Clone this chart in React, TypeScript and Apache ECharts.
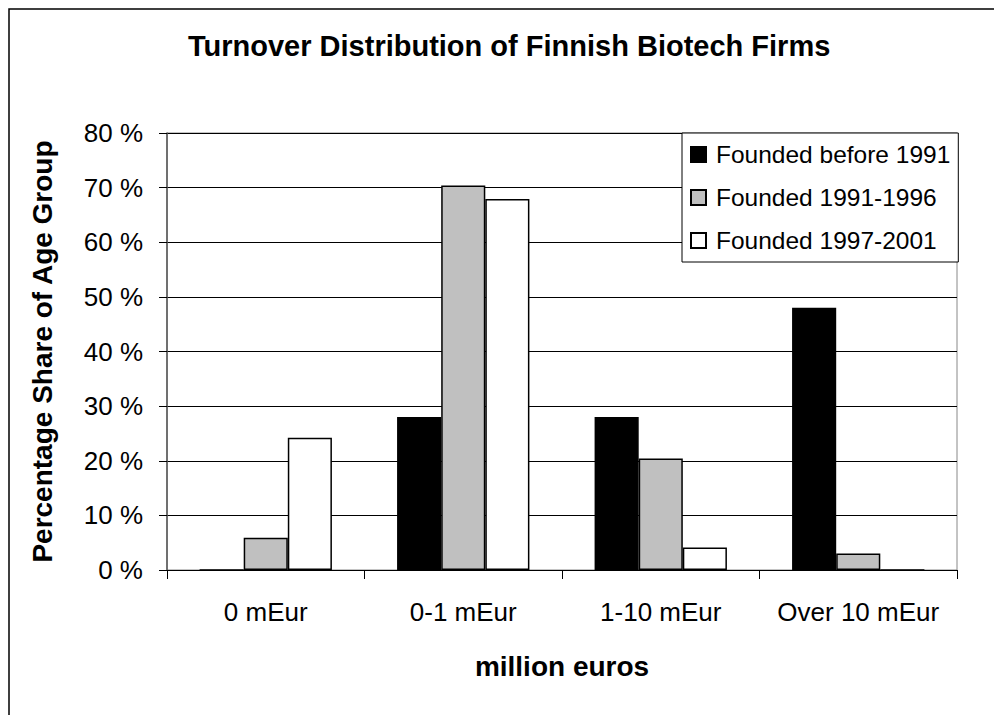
import React, { useEffect, useRef } from "react";
import * as echarts from "echarts";

const categories = ["0 mEur", "0-1 mEur", "1-10 mEur", "Over 10 mEur"];
const seriesNames = ["Founded before 1991", "Founded 1991-1996", "Founded 1997-2001"];
const before1991 = [0, 28.0, 28.0, 48.0];
const from1991to1996 = [5.9, 70.4, 20.4, 3.0];
const from1997to2001 = [24.2, 67.9, 4.1, 0];
const seriesColors = ["#000000", "#c0c0c0", "#ffffff"];
const yTicks = { min: 0, max: 80, interval: 10 };

const FONT = "'Liberation Sans', Arial, sans-serif";

export default function App() {
  const ref = useRef<HTMLDivElement>(null);
  useEffect(() => {
    if (!ref.current) return;
    const chart = echarts.init(ref.current, undefined, { renderer: "svg" });
    const values = [before1991, from1991to1996, from1997to2001];
    chart.setOption({
      animation: false,
      backgroundColor: "#ffffff",
      textStyle: { fontFamily: FONT },
      title: {
        text: "Turnover Distribution of Finnish Biotech Firms",
        left: 188,
        top: 31,
        padding: 0,
        textStyle: { fontFamily: FONT, fontSize: 29, fontWeight: "bold", color: "#000" },
      },
      graphic: [
        {
          type: "rect",
          shape: { x: 9, y: 9, width: 1100, height: 800 },
          style: { fill: "none", stroke: "#000", lineWidth: 1.5 },
          silent: true,
          z: 100,
        },
      ],
      legend: {
        orient: "vertical",
        left: 682,
        top: 133,
        padding: [9, 8, 9, 8],
        itemGap: 18,
        itemWidth: 20,
        itemHeight: 15,
        icon: "path://M0,0H15V15H0Z M20,15",
        backgroundColor: "#ffffff",
        borderColor: "#000",
        borderWidth: 1,
        textStyle: { fontFamily: FONT, fontSize: 24.5, color: "#000" },
        data: seriesNames,
      },
      grid: {
        left: 167,
        top: 133,
        width: 790,
        height: 437,
        show: true,
        borderColor: "#888",
        borderWidth: 1,
      },
      xAxis: {
        type: "category",
        data: categories,
        name: "million euros",
        nameLocation: "middle",
        nameGap: 82,
        nameTextStyle: { fontFamily: FONT, fontSize: 28, fontWeight: "bold", color: "#000" },
        axisLine: { lineStyle: { color: "#000", width: 1 } },
        axisTick: { show: true, length: 9, lineStyle: { color: "#000" } },
        axisLabel: { interval: 0, fontFamily: FONT, fontSize: 26, color: "#000", margin: 29 },
      },
      yAxis: {
        type: "value",
        min: yTicks.min,
        max: yTicks.max,
        interval: yTicks.interval,
        name: "Percentage Share of Age Group",
        nameLocation: "middle",
        nameGap: 111,
        nameTextStyle: { fontFamily: FONT, fontSize: 28, fontWeight: "bold", color: "#000" },
        axisLine: { show: true, lineStyle: { color: "#555", width: 1.5 } },
        axisTick: { show: true, length: 8, lineStyle: { color: "#000" } },
        axisLabel: { fontFamily: FONT, fontSize: 26, color: "#000", margin: 24, formatter: "{value} %" },
        splitLine: { show: true, lineStyle: { color: "#000", width: 1 } },
      },
      series: seriesNames.map((name, i) => ({
        name,
        type: "bar",
        data: values[i],
        barGap: "0%",
        barCategoryGap: "33%",
        itemStyle: { color: seriesColors[i], borderColor: "#000", borderWidth: 1.5 },
      })),
    });
    return () => chart.dispose();
  }, []);
  return (
    <div
      ref={ref}
      style={{ position: "fixed", left: 0, top: 0, width: 994, height: 715 }}
    />
  );
}
